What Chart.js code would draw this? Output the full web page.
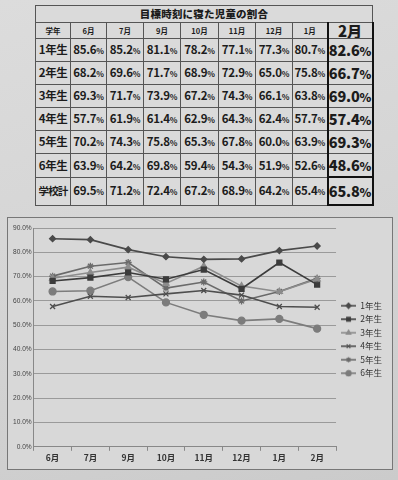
<!DOCTYPE html>
<html><head><meta charset="utf-8">
<script src="https://cdn.jsdelivr.net/npm/chart.js@4.4.0/dist/chart.umd.min.js"></script>
<style>
html,body{margin:0;padding:0;}
body{width:398px;height:480px;overflow:hidden;position:relative;
 background:linear-gradient(165deg,#dcdcdc 0%,#d4d4d4 55%,#cbcbcb 100%);
 font-family:"Noto Sans CJK JP","Noto Sans",sans-serif;}
#tbl{position:absolute;left:35px;top:5px;border-collapse:collapse;table-layout:fixed;background:#dadada;border:1.5px solid #333;}
#tbl td{border:1px solid #555;padding:0;text-align:center;font-weight:700;color:#1c1c1c;white-space:nowrap;overflow:hidden;line-height:1;}
#tbl td.title{font-size:10.5px;height:16px;letter-spacing:0.2px;font-weight:900;}
#tbl tr.head td{font-size:7.5px;height:14px;}
#tbl tr.head td.last{font-size:15px;font-weight:900;}
#tbl tr.data td{height:22px;font-size:11.5px;letter-spacing:-0.3px;}
#tbl tr.data td.lab{font-size:11.5px;letter-spacing:-0.5px;}
#tbl tr.data td .pc{font-size:8px;}
#tbl td.last{border-left:2px solid #111;border-right:2px solid #111;}
#tbl tr.data td.last{font-size:14.5px;letter-spacing:-0.2px;font-weight:900;}
#tbl tr.data td.last .pc{font-size:12px;}
#tbl tr.total td{height:26px;border-top:1.5px solid #333;}
#tbl tr.total td.last{border:2px solid #111;}
#tbl tr.total td.lab{font-size:10.5px;letter-spacing:-0.8px;}
#box{position:absolute;left:7px;top:217px;width:384px;height:251px;border:1px solid #777;background:#d8d8d8;}
#c{display:block;}
</style></head>
<body>
<table id="tbl"></table>
<div id="box"><canvas id="c" width="384" height="251"></canvas></div>
<script>
// ---- data ----
const title = "目標時刻に寝た児童の割合";
const headerLabel = "学年";
const months = ["6月","7月","9月","10月","11月","12月","1月","2月"];
const grades = ["1年生","2年生","3年生","4年生","5年生","6年生"];
const grade1 = [85.6,85.2,81.1,78.2,77.1,77.3,80.7,82.6];
const grade2 = [68.2,69.6,71.7,68.9,72.9,65.0,75.8,66.7];
const grade3 = [69.3,71.7,73.9,67.2,74.3,66.1,63.8,69.0];
const grade4 = [57.7,61.9,61.4,62.9,64.3,62.4,57.7,57.4];
const grade5 = [70.2,74.3,75.8,65.3,67.8,60.0,63.9,69.3];
const grade6 = [63.9,64.2,69.8,59.4,54.3,51.9,52.6,48.6];
const totalLabel = "学校計";
const schoolTotal = [69.5,71.2,72.4,67.2,68.9,64.2,65.4,65.8];
const yTicks = [0,10,20,30,40,50,60,70,80,90];

const seriesValues = [grade1,grade2,grade3,grade4,grade5,grade6];

// ---- table ----
const colWidths = [35,36,37,37,38,37,37,35,45];
const tbl = document.getElementById('tbl');
let html = '<colgroup>' + colWidths.map(w=>'<col style="width:'+w+'px">').join('') + '</colgroup>';
html += '<tr><td class="title" colspan="9">'+title+'</td></tr>';
html += '<tr class="head"><td>'+headerLabel+'</td>' + months.map((m,i)=>'<td'+(i===months.length-1?' class="last"':'')+'>'+m+'</td>').join('') + '</tr>';
function row(label, vals, cls){
  return '<tr class="data '+cls+'"><td class="lab">'+label+'</td>' + vals.map((v,i)=>'<td'+(i===vals.length-1?' class="last"':'')+'>'+v.toFixed(1)+'<span class="pc">%</span></td>').join('') + '</tr>';
}
grades.forEach((g,i)=>{ html += row(g, seriesValues[i], ''); });
html += row(totalLabel, schoolTotal, 'total');
tbl.innerHTML = html;

// ---- chart ----
const styles = [
  {color:'#4a4a4a', point:'rectRot', r:3},
  {color:'#3c3c3c', point:'rect', r:3.5},
  {color:'#8c8c8c', point:'triangle', r:3.5},
  {color:'#4e4e4e', point:'crossRot', r:3.5},
  {color:'#6a6a6a', point:'star', r:3.5},
  {color:'#7c7c7c', point:'circle', r:3.5}
];
const datasets = grades.map((g,i)=>({
  label:g, data:seriesValues[i],
  borderColor:styles[i].color, backgroundColor:styles[i].color,
  pointBorderColor:styles[i].color, pointBackgroundColor:styles[i].color,
  pointStyle:styles[i].point, pointRadius:styles[i].r, pointBorderWidth:1.3,
  borderWidth:1.6, tension:0, fill:false
}));

function legendIcon(ds){
  const cv = document.createElement('canvas');
  cv.width = 15; cv.height = 8;
  const ctx = cv.getContext('2d');
  ctx.strokeStyle = ds.borderColor; ctx.lineWidth = 1.6;
  ctx.beginPath(); ctx.moveTo(0,4); ctx.lineTo(15,4); ctx.stroke();
  ctx.fillStyle = ds.pointBackgroundColor; ctx.strokeStyle = ds.pointBorderColor; ctx.lineWidth = 1.2;
  Chart.helpers.drawPoint(ctx, {pointStyle:ds.pointStyle, radius:2.6, rotation:0, borderWidth:1.2}, 7.5, 4);
  return cv;
}

const legendShift = {id:'legendShift', afterUpdate(chart){
  const l = chart.legend; if (l) { l.top -= 7; l.bottom -= 7; }
}};

new Chart(document.getElementById('c'), {
  type:'line',
  data:{labels:months, datasets:datasets},
  plugins:[legendShift],
  options:{
    responsive:false, animation:false,
    layout:{padding:{top:10,right:0,left:3,bottom:4}},
    plugins:{
      legend:{position:'right', align:'center',
        labels:{usePointStyle:true, pointStyleWidth:15, boxHeight:8, padding:5, color:'#333',
          font:{size:8.5, family:'"Noto Sans CJK JP", sans-serif'},
          generateLabels:(chart)=>{
            const items = Chart.defaults.plugins.legend.labels.generateLabels(chart);
            items.forEach(it=>{ it.pointStyle = legendIcon(chart.data.datasets[it.datasetIndex]); });
            return items;
          }}},
      tooltip:{enabled:false}
    },
    scales:{
      x:{offset:true,
        grid:{display:true, drawOnChartArea:false, tickLength:4, color:'#888', offset:true},
        border:{color:'#888'},
        ticks:{font:{size:8.5, weight:'bold', family:'"Noto Sans CJK JP", sans-serif'}, color:'#333', padding:2}},
      y:{min:0, max:90,
        afterBuildTicks:(ax)=>{ ax.ticks = yTicks.map(v=>({value:v})); },
        ticks:{callback:v=>v.toFixed(1)+'%', font:{size:6.6, family:'"Liberation Sans", sans-serif'}, color:'#444', padding:2},
        grid:{color:'#9a9a9a', drawTicks:false},
        border:{color:'#888'}}
    }
  }
});
</script>
</body></html>
